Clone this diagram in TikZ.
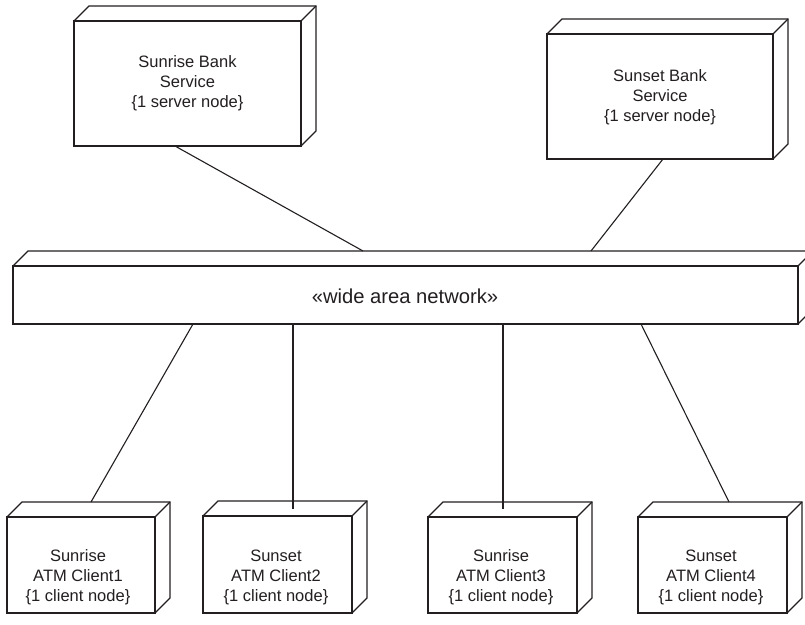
\documentclass[tikz,border=0pt]{standalone}
\usepackage{fontspec}
\setmainfont{Liberation Sans}
\usetikzlibrary{calc}
\definecolor{ink}{HTML}{231F20}
\tikzset{
  front/.style={draw=ink, line width=1.3pt, inner sep=0pt, outer sep=0pt, rectangle},
  edgethreed/.style={draw=ink, line width=1.3pt, line join=miter},
  conn/.style={draw=ink, line width=1.1pt},
  lbl/.style={text=ink, align=center, font=\fontsize{16.5}{20}\selectfont, inner sep=0pt},
  netlbl/.style={text=ink, font=\fontsize{20.2}{24}\selectfont, inner sep=0pt}
}
\newcommand\depnode[5]{%
  \node[front, minimum width={(#4-#2)*1pt}, minimum height={(#5-#3)*1pt}] (#1) at ({(#2+#4)/2},{(#3+#5)/2}) {};
  \draw[edgethreed] (#1.north west) -- ++(15,-15) -- ++({#4-#2},0) -- ++(0,{#5-#3}) -- (#1.south east);
  \draw[edgethreed] (#1.north east) -- ++(15,-15);
}
\begin{document}
\begin{tikzpicture}[x=1pt,y=-1pt]
\useasboundingbox (0,0) rectangle (805,624);
\clip (0,0) rectangle (805,624);
\fill[white] (0,0) rectangle (805,624);

\depnode{srb}{74}{21}{301}{146}
\depnode{ssb}{547}{34}{773}{159}
\depnode{net}{13}{266}{798}{324}
\depnode{cA}{7}{517}{155}{613}
\depnode{cB}{203}{516}{352}{613}
\depnode{cC}{428}{517}{577}{613}
\depnode{cD}{638}{517}{787}{613}

\node[lbl] (srbT) at (187.5,83.5) {Sunrise Bank\\Service\\\{1 server node\}};
\node[lbl] (ssbT) at (660,97) {Sunset Bank\\Service\\\{1 server node\}};
\node[netlbl] (netT) at (405,296) {«wide area network»};
\node[lbl] (cAT) at (78,577) {Sunrise\\ATM Client1\\\{1 client node\}};
\node[lbl] (cBT) at (276,577) {Sunset\\ATM Client2\\\{1 client node\}};
\node[lbl] (cCT) at (501,577) {Sunrise\\ATM Client3\\\{1 client node\}};
\node[lbl] (cDT) at (711,577) {Sunset\\ATM Client4\\\{1 client node\}};

% connector end points
\coordinate (srbB) at (175,146);
\coordinate (netTa) at (363,251);
\coordinate (ssbB) at (663,159);
\coordinate (netTb) at (591,251);
\coordinate (netBa) at (193,324);
\coordinate (cATop) at (91,502);
\coordinate (netBb) at (293,324);
\coordinate (cBTop) at (293,509);
\coordinate (netBc) at (503,324);
\coordinate (cCTop) at (503,509);
\coordinate (netBd) at (641,324);
\coordinate (cDTop) at (729,502);

\draw[conn] (srbB) -- (netTa);
\draw[conn] (ssbB) -- (netTb);
\draw[conn] (netBa) -- (cATop);
\draw[conn] (netBb) -- (cBTop);
\draw[conn] (netBc) -- (cCTop);
\draw[conn] (netBd) -- (cDTop);
\end{tikzpicture}
\end{document}
